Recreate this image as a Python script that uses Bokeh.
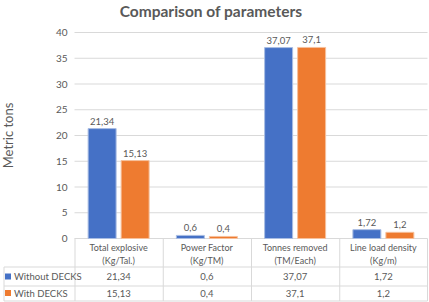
from bokeh.plotting import figure
from bokeh.models import Range1d, FixedTicker, ColumnDataSource, LinearAxis, Label
from bokeh.core.properties import value
from bokeh.embed import file_html
from bokeh.resources import INLINE

# ---- data ----
title_text = "Comparison of parameters"
categories = ["Total explosive", "Power Factor", "Tonnes removed", "Line load density"]
units = ["(Kg/Tal.)", "(Kg/TM)", "(TM/Each)", "(Kg/m)"]
series_names = ["Without DECKS", "With DECKS"]
without_decks = [21.34, 0.6, 37.07, 1.72]
with_decks = [15.13, 0.4, 37.1, 1.2]
y_ticks = [0, 5, 10, 15, 20, 25, 30, 35, 40]

BLUE = "#4571C6"
ORANGE = "#EE7B30"
TXT = "#595959"
GRID = "#D9D9D9"
FONT = "Lato"

def fmt(v):
    return ("%g" % v).replace(".", ",")

# ---- layout (pixels) ----
W, H = 429, 302
LEFT = 74          # width of the table's first column (x of category 0)
Y40 = 32           # pixel row of the 40 line
Y0 = 238           # pixel row of the zero line
PX = (Y0 - Y40) / 40.0
n = len(categories)
col_w = 88.25
xl = -LEFT / col_w
xr = (W - LEFT) / col_w
y_top = 40 + Y40 / PX
y_bottom = -(H - Y0) / PX

def yp(px):        # pixel offset below the zero line -> data y
    return -px / PX

def xp(px):        # pixel column -> data x
    return (px - LEFT) / col_w

p = figure(width=W, height=H, output_backend="svg", toolbar_location=None,
           x_range=Range1d(xl, xr), y_range=Range1d(y_bottom, y_top),
           x_axis_type=None, y_axis_type=None,
           min_border_left=0, min_border_right=0, min_border_top=0,
           min_border_bottom=0, outline_line_color=None)
p.grid.visible = False

# chart title
p.add_layout(Label(x=xp(210.5), y=yp(10.5 - Y0), text=title_text,
                   text_align="center", text_baseline="middle",
                   text_font=FONT, text_font_size="15.5px",
                   text_font_style="bold", text_color=TXT))

yax = LinearAxis(ticker=FixedTicker(ticks=y_ticks), fixed_location=0, bounds=(0, 40))
yax.axis_line_color = None
yax.major_tick_line_color = None
yax.minor_tick_line_color = None
yax.major_tick_out = 0
yax.major_tick_in = 0
yax.major_label_standoff = 7
yax.major_label_text_font = FONT
yax.major_label_text_font_size = "10px"
yax.major_label_text_color = TXT
yax.axis_label = "Metric tons"
yax.axis_label_text_font = FONT
yax.axis_label_text_font_size = "13px"
yax.axis_label_text_font_style = "normal"
yax.axis_label_text_color = TXT
yax.axis_label_standoff = 37
p.add_layout(yax, "left")

# horizontal grid lines over the category columns
p.segment(x0=[0] * len(y_ticks), y0=y_ticks, x1=[n] * len(y_ticks), y1=y_ticks,
          line_color=GRID, line_width=1)

idx = list(range(n))
D, BW = 0.187, 0.317
src = ColumnDataSource(dict(
    xa=[i + 0.5 - D for i in idx], xb=[i + 0.5 + D for i in idx],
    a=without_decks, b=with_decks,
    la=[fmt(v) for v in without_decks], lb=[fmt(v) for v in with_decks]))
p.vbar(x="xa", top="a", width=BW, source=src,
       fill_color=BLUE, line_color="#A9BDE3", line_width=1)
p.vbar(x="xb", top="b", width=BW, source=src,
       fill_color=ORANGE, line_color="#F6C09C", line_width=1)
p.text(x="xa", y="a", text="la", source=src,
       text_align="center", text_baseline="bottom", y_offset=-4,
       text_font=value(FONT), text_font_size="9.5px", text_color=TXT)
p.text(x="xb", y="b", text="lb", source=src,
       text_align="center", text_baseline="bottom", y_offset=-4,
       text_font=value(FONT), text_font_size="9.5px", text_color=TXT)

# ---- data table below the chart ----
row_lines = [yp(28.5), yp(47.5), yp(62.5)]
edge = xp(3.5)
p.segment(x0=[edge] * 3, y0=row_lines, x1=[n] * 3, y1=row_lines,
          line_color=GRID, line_width=1)
vx = [i + xp(LEFT + 0.5) for i in idx] + [n]
p.segment(x0=vx, y0=[0] * (n + 1), x1=vx, y1=[row_lines[-1]] * (n + 1),
          line_color=GRID, line_width=1)
p.segment(x0=[edge], y0=[row_lines[0]], x1=[edge], y1=[row_lines[-1]],
          line_color=GRID, line_width=1)

cx = [i + 0.5 for i in idx]
tk = dict(text_baseline="middle", text_font=value(FONT), text_color=TXT)
p.text(x=cx, y=[yp(8.5)] * n, text=categories, text_align="center",
       text_font_size="9px", **tk)
p.text(x=cx, y=[yp(22)] * n, text=units, text_align="center",
       text_font_size="9px", **tk)
p.text(x=cx, y=[yp(38)] * n, text=[fmt(v) for v in without_decks], text_align="center",
       text_font_size="9.5px", **tk)
p.text(x=cx, y=[yp(54.5)] * n, text=[fmt(v) for v in with_decks], text_align="center",
       text_font_size="9.5px", **tk)

p.scatter(x=[xp(7.5)] * 2, y=[yp(38), yp(54.5)], marker="square", size=6,
          fill_color=[BLUE, ORANGE], line_color=None)
p.text(x=[xp(13.5)] * 2, y=[yp(38), yp(54.5)], text=series_names,
       text_align="left", text_font_size="9.5px", **tk)

open("out.html", "w").write(file_html(p, INLINE))
